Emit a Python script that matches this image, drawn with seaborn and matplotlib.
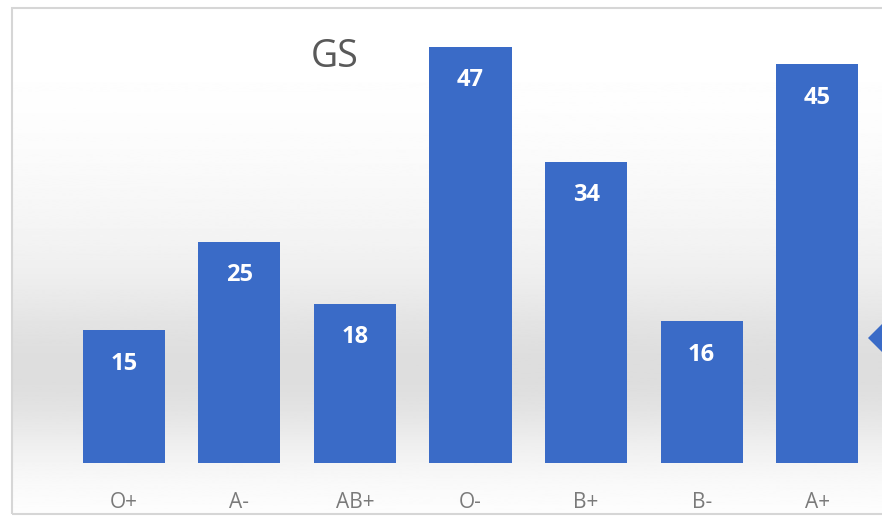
import numpy as np
import pandas as pd
import matplotlib
matplotlib.use("Agg")
import matplotlib.pyplot as plt
from matplotlib.patches import Rectangle, Polygon
import seaborn as sns

# données
groupes = ["O+", "A-", "AB+", "O-", "B+", "B-", "A+"]
effectifs = [15, 25, 18, 47, 34, 16, 45]
titre = "GS"

df = pd.DataFrame({"groupe": groupes, "effectif": effectifs})

sns.set_style("white")
plt.rcParams["font.family"] = ["Open Sans", "DejaVu Sans"]

fig = plt.figure(figsize=(8.82, 5.2), dpi=100)

# fond dégradé (blanc -> gris -> blanc) derrière la zone du graphique
bg = fig.add_axes([12 / 882, 6 / 520, 1 - 12 / 882, 506 / 520])
ypx = np.linspace(514, 8, 500)  # de bas en haut, en pixels depuis le haut
dark = 0.10 * np.exp(-((ypx - 380) / 80.0) ** 2)
dark += 0.05 * np.exp(-((ypx - 290) / 130.0) ** 2)
vals = (1 - dark)[::-1].reshape(-1, 1)
bg.imshow(vals, aspect="auto", cmap="gray", vmin=0, vmax=1,
          extent=[0, 1, 0, 1])
bg.set_axis_off()
fig.add_artist(Rectangle((12 / 882, 6 / 520), 1, 506 / 520,
                         transform=fig.transFigure, fill=False,
                         edgecolor="#d6d6d6", lw=1.5))

ax = fig.add_axes([66 / 882, 57 / 520, 809 / 882, 443 / 520])
ax.patch.set_alpha(0)

sns.barplot(data=df, x="groupe", y="effectif", color="#3a6bc7",
            width=0.71, saturation=1, linewidth=0, ax=ax, zorder=2)

for i, v in enumerate(effectifs):
    ax.text(i, v - 3.8, str(v), ha="center", va="center", color="white",
            fontsize=17, fontweight="bold", zorder=3)

ax.set_ylim(0, 50)
ax.set_xlim(-0.5, len(groupes) - 0.5)
ax.set_xlabel("")
ax.set_ylabel("")
ax.set_yticks([])
ax.tick_params(axis="x", length=0, labelsize=15, labelcolor="#7a7a7a", pad=21)
sns.despine(ax=ax, left=True, bottom=True)

fig.text(335 / 882, 1 - 57 / 520, titre, ha="center", va="center",
         fontsize=27, color="#595959")

# marqueur bleu coupé à droite
fig.add_artist(Polygon(np.array([[868, 520 - 338], [882, 520 - 324],
                                 [896, 520 - 338], [882, 520 - 352]]) /
                       np.array([882, 520]),
                       closed=True, transform=fig.transFigure,
                       facecolor="#3a6bc7", edgecolor="none"))

fig.savefig("out.png", dpi=100)
